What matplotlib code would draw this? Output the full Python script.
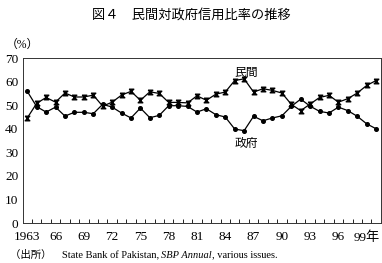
import numpy as np
import matplotlib.pyplot as plt
from matplotlib.path import Path

plt.rcParams['font.family'] = ['Liberation Serif', 'Noto Sans CJK JP']

# データ (1963-2000年, %)
years = list(range(1963, 2001))
private = [44.6, 50.8, 53.3, 51.3, 55.2, 53.5, 53.5, 54.3, 49.6, 51.3,
           54.3, 55.9, 52.1, 55.7, 55.0, 51.2, 51.2, 51.0, 54.0, 52.1,
           54.7, 55.6, 60.5, 61.2, 55.6, 57.0, 56.3, 55.2, 50.4, 47.7,
           50.5, 53.3, 54.2, 51.3, 52.8, 55.2, 58.4, 60.5]
government = [55.9, 49.4, 47.1, 49.2, 45.4, 47.0, 47.0, 46.4, 50.4, 49.2,
              46.7, 44.6, 48.8, 44.7, 45.7, 49.8, 49.8, 49.5, 47.1, 48.5,
              46.0, 45.0, 39.9, 39.2, 45.3, 43.4, 44.6, 45.5, 49.5, 52.6,
              49.6, 47.4, 46.7, 49.2, 47.7, 45.3, 42.1, 40.0]
tick_labels = ["1963", "66", "69", "72", "75", "78", "81", "84", "87",
               "90", "93", "96", "99年"]

x = np.arange(len(years))
hourglass = Path([(-1, 1), (1, 1), (-1, -1), (1, -1), (-1, 1)])

fig = plt.figure(figsize=(3.82, 2.63), dpi=100)
ax = fig.add_axes([0.059, 0.152, 0.938, 0.627])

ax.plot(x, private, color='black', lw=0.9, marker=hourglass, ms=3.3)
ax.plot(x, government, color='black', lw=0.9, marker='o', ms=2.6)

ax.set_xlim(-0.5, len(years) - 0.5)
ax.set_ylim(0, 70)
ax.set_yticks(range(0, 71, 10))
ax.set_xticks(x[::3])
ax.set_xticklabels(tick_labels)
ax.set_xticks(np.arange(0.5, len(years) - 0.5, 1), minor=True)
ax.tick_params(axis='x', which='major', length=0, pad=6, labelsize=9.5)
ax.tick_params(axis='x', which='minor', direction='in', length=3, width=0.6)
ax.tick_params(axis='y', direction='in', length=0, pad=3, labelsize=9.5)
for s in ax.spines.values():
    s.set_linewidth(0.7)
    s.set_color('#333333')

ax.text(23.2, 63.5, "民間", fontsize=8.5, ha='center', va='center')
ax.text(23.2, 33.5, "政府", fontsize=8.5, ha='center', va='center')

fig.text(0.5, 0.943, "図４　民間対政府信用比率の推移", fontsize=9.5,
         ha='center', va='center')
fig.text(0.015, 0.83, "（%）", fontsize=8.5, ha='left', va='center')

# 出所 (イタリック部分をつなげる)
yb = 0.02
t1 = fig.text(0.025, yb, "（出所）　State Bank of Pakistan, ", fontsize=7.5,
              ha='left', va='baseline')
fig.canvas.draw()
inv = fig.transFigure.inverted()
x1 = inv.transform((t1.get_window_extent().x1, 0))[0]
t2 = fig.text(x1, yb, "SBP Annual", fontsize=7.5, style='italic',
              ha='left', va='baseline')
x2 = inv.transform((t2.get_window_extent().x1, 0))[0]
fig.text(x2, yb, ", various issues.", fontsize=7.5, ha='left', va='baseline')

fig.savefig("out.png", dpi=100)
